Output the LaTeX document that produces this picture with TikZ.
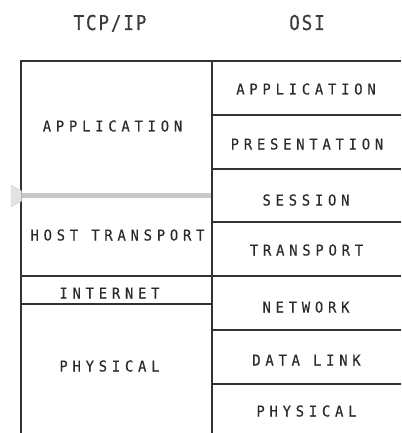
\documentclass[tikz,border=0pt]{standalone}
\usepackage{fontspec}
\newfontfamily\lblfont[LetterSpace=32,FakeStretch=0.92,FakeBold=0.4]{DejaVu Sans Mono}
\newfontfamily\ttlfont[LetterSpace=9,FakeStretch=0.86,FakeBold=0.3]{DejaVu Sans Mono}
\definecolor{ink}{HTML}{2A2A2A}
\definecolor{ttlink}{HTML}{3A3A3A}
\definecolor{rule}{HTML}{333333}
\definecolor{bar}{HTML}{C8C8C8}
\definecolor{tab}{HTML}{E2E2E2}
\tikzset{
  lbl/.style={font=\lblfont\fontsize{15}{15}\selectfont, text=ink, inner sep=0pt, anchor=base},
  ttl/.style={font=\ttlfont\fontsize{20.5}{20.5}\selectfont, text=ttlink, inner sep=0pt, anchor=base},
  grid/.style={draw=rule, line width=1.3pt},
}
\begin{document}
\begin{tikzpicture}[x=1pt,y=-1pt]
\useasboundingbox (0,0) rectangle (401,433);
% titles
\node[ttl] (ttcp) at (110,30) {TCP/IP};
\node[ttl] (tosi) at (307,30) {OSI};
% frame
\draw[grid] (21,433) -- (21,61) -- (401,61);
\draw[grid] (212,61) -- (212,433);
% right column separators
\foreach \yy in {115,169,222,276,330,384} \draw[grid] (212,\yy) -- (401,\yy);
% left column separators
\draw[grid] (21,276) -- (212,276);
\draw[grid] (21,304) -- (212,304);
% gray bar and tab
\draw[bar, line width=4.5pt] (22,195.7) -- (211.3,195.7);
\fill[tab, draw=bar!80, line width=0.4pt] (11,185) -- (21.5,191) -- (21.5,201) -- (11,207) -- cycle;
% left labels
\node[lbl] (lapp) at (112.5,131.5) {APPLICATION};
\node[lbl] (lhost) at (117.5,240.5) {HOST TRANSPORT};
\node[lbl] (linet) at (109.5,298.5) {INTERNET};
\node[lbl] (lphys) at (109.5,371.5) {PHYSICAL};
% right labels
\node[lbl] (rapp) at (306,94.5) {APPLICATION};
\node[lbl] (rpres) at (307,149.5) {PRESENTATION};
\node[lbl] (rsess) at (306,205.5) {SESSION};
\node[lbl] (rtran) at (306.5,255.5) {TRANSPORT};
\node[lbl] (rnet) at (306,312.5) {NETWORK};
\node[lbl] (rdl) at (306.5,365.5) {DATA LINK};
\node[lbl] (rphys) at (306.5,416.5) {PHYSICAL};
\end{tikzpicture}
\end{document}
